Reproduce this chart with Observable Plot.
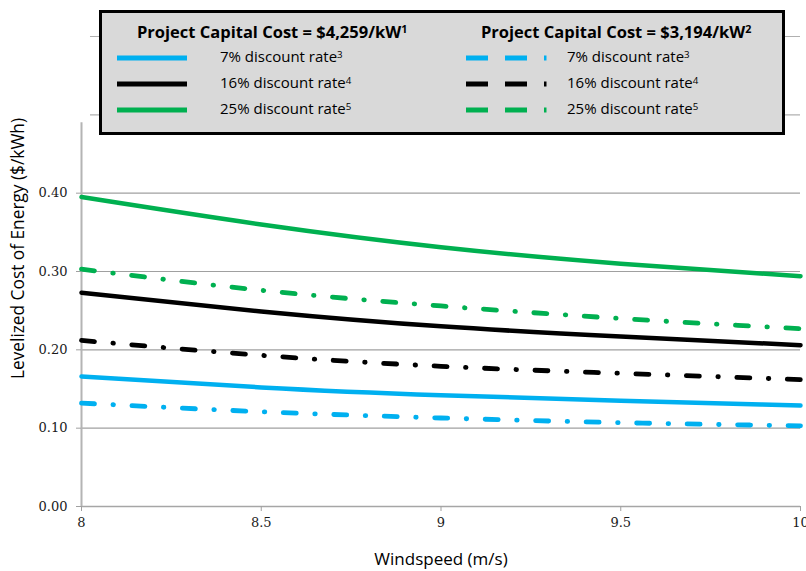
<!DOCTYPE html>
<html>
<head>
<meta charset="utf-8">
<script src="https://cdn.jsdelivr.net/npm/d3@7"></script>
<script src="https://cdn.jsdelivr.net/npm/@observablehq/plot@0.6"></script>
<style>
  html, body { margin: 0; padding: 0; background: #fff; overflow: hidden; }
  #wrap { position: relative; width: 806px; height: 571px; }
  #wrap svg g[aria-label="y-axis tick label"], #wrap svg g[aria-label="x-axis tick label"] { font-family: "DejaVu Serif", serif; }
  #legend { position: absolute; left: 99px; top: 10px; width: 686px; height: 125px; box-sizing: border-box;
    border: 3px solid #000; background: #d9d9d9; font-family: "Open Sans", Lato, sans-serif; color: #000; }
  .hdr { position: absolute; font-weight: bold; font-size: 16.5px; white-space: nowrap; line-height: 1; }
  .lbl { position: absolute; font-size: 15px; white-space: nowrap; line-height: 1; }
  sup { font-size: 0.65em; vertical-align: 0; position: relative; top: -0.45em; }
  .sw { position: absolute; }
</style>
</head>
<body>
<div id="wrap"></div>
<script>
// ---- data ----
const windspeed = [8, 8.5, 9, 9.5, 10];
const rates = ["7%", "16%", "25%"];
const rateSups = ["3", "4", "5"];
const rateColors = ["#00b0f0", "#000000", "#00b050"];
// Project capital cost = $4,259/kW (solid)
const high7  = [0.166, 0.152, 0.142, 0.135, 0.129];
const high16 = [0.273, 0.249, 0.230, 0.217, 0.206];
const high25 = [0.395, 0.360, 0.331, 0.310, 0.294];
// Project capital cost = $3,194/kW (dash-dot)
const low7  = [0.132, 0.121, 0.113, 0.107, 0.103];
const low16 = [0.212, 0.193, 0.179, 0.170, 0.162];
const low25 = [0.303, 0.276, 0.256, 0.240, 0.227];
const costHeaders = ["Project Capital Cost = $4,259/kW", "Project Capital Cost = $3,194/kW"];
const costSups = ["1", "2"];
const yTicks = [0, 0.1, 0.2, 0.3, 0.4];
const gridLow = [0.1, 0.2, 0.3, 0.4];
const gridHigh = [0.5, 0.6];
const xTicks = [8, 8.5, 9, 9.5, 10];
const xTitle = "Windspeed (m/s)";
const yTitle = "Levelized Cost of Energy ($/kWh)";

function rows(series) {
  const out = [];
  series.forEach((vals, i) => vals.forEach((v, j) => out.push({x: windspeed[j], y: v, rate: rates[i]})));
  return out;
}
const solid = rows([high7, high16, high25]);
const dashed = rows([low7, low16, low25]);

const chart = Plot.plot({
  width: 806,
  height: 571,
  marginTop: 36,
  marginBottom: 65,
  marginLeft: 81,
  marginRight: 6,
  x: {domain: [8, 10]},
  y: {domain: [0, 0.6]},
  color: {domain: rates, range: rateColors},
  style: {background: "transparent", overflow: "visible"},
  marks: [
    Plot.ruleY(gridLow, {x1: 8, x2: 10, stroke: "#a0a0a0", strokeWidth: 1.2}),
    Plot.ruleY(gridHigh, {x1: 8.025, x2: 10, stroke: "#b0b0b0", strokeWidth: 1.2}),
    Plot.ruleY([0], {x1: 8, x2: 10, stroke: "#a6a6a6", strokeWidth: 1.5}),
    Plot.ruleX([8], {y1: 0, y2: 0.49, stroke: "#b4b4b4", strokeWidth: 2}),
    Plot.axisY({ticks: yTicks, tickFormat: d3.format(".2f"), tickSize: 5, tickPadding: 9, label: null,
      fontSize: 13, fontFamily: "DejaVu Serif", stroke: "#a0a0a0", color: "#1a1a1a"}),
    Plot.axisX({ticks: xTicks, tickFormat: d => String(d), tickSize: 5, tickPadding: 6, label: null,
      fontSize: 13, fontFamily: "DejaVu Serif", stroke: "#a0a0a0", color: "#1a1a1a"}),
    Plot.line(solid, {x: "x", y: "y", z: "rate", stroke: "rate", strokeWidth: 4.5, curve: "natural"}),
    Plot.line(dashed, {x: "x", y: "y", z: "rate", stroke: "rate", strokeWidth: 4.8, curve: "natural",
      strokeLinecap: "round", strokeDasharray: "13,18.5,0.5,18.5"}),
    Plot.text([xTitle], {frameAnchor: "bottom", dy: 58, fontSize: 17, fontFamily: "Open Sans", fill: "#000"}),
    Plot.text([yTitle], {frameAnchor: "left", textAnchor: "middle", dx: -63, dy: -23, rotate: -90,
      fontSize: 17.3, fontFamily: "Open Sans", fill: "#000"})
  ]
});

const wrap = document.getElementById("wrap");
wrap.appendChild(chart);

// ---- legend (overlay) ----
const legend = document.createElement("div");
legend.id = "legend";
wrap.appendChild(legend);
const L = 99 + 3, T = 10 + 3; // inner origin
const hdrX = [137, 481];
costHeaders.forEach((h, i) => {
  const d = document.createElement("div");
  d.className = "hdr";
  d.style.left = (hdrX[i] - L) + "px";
  d.style.top = (24 - T) + "px";
  d.innerHTML = h + "<sup>" + costSups[i] + "</sup>";
  legend.appendChild(d);
});
const rowY = [58, 84, 110];
rates.forEach((r, i) => {
  const s = document.createElementNS("http://www.w3.org/2000/svg", "svg");
  s.setAttribute("class", "sw");
  s.setAttribute("width", 80); s.setAttribute("height", 10);
  s.style.left = (113 - L) + "px"; s.style.top = (rowY[i] - 5 - T) + "px";
  s.innerHTML = `<line x1="4" x2="74" y1="5" y2="5" stroke="${rateColors[i]}" stroke-width="5"/>`;
  legend.appendChild(s);
  const s2 = document.createElementNS("http://www.w3.org/2000/svg", "svg");
  s2.setAttribute("class", "sw");
  s2.setAttribute("width", 90); s2.setAttribute("height", 10);
  s2.style.left = (462 - L) + "px"; s2.style.top = (rowY[i] - 5 - T) + "px";
  s2.innerHTML = `<line x1="4" x2="86" y1="5" y2="5" stroke="${rateColors[i]}" stroke-width="5" stroke-dasharray="22,17,22,17,2.5,30"/>`;
  legend.appendChild(s2);
  [220, 567].forEach(x => {
    const t = document.createElement("div");
    t.className = "lbl";
    t.style.left = (x - L) + "px";
    t.style.top = (rowY[i] - 9 - T) + "px";
    t.innerHTML = r + " discount rate<sup>" + rateSups[i] + "</sup>";
    legend.appendChild(t);
  });
});
</script>
</body>
</html>
